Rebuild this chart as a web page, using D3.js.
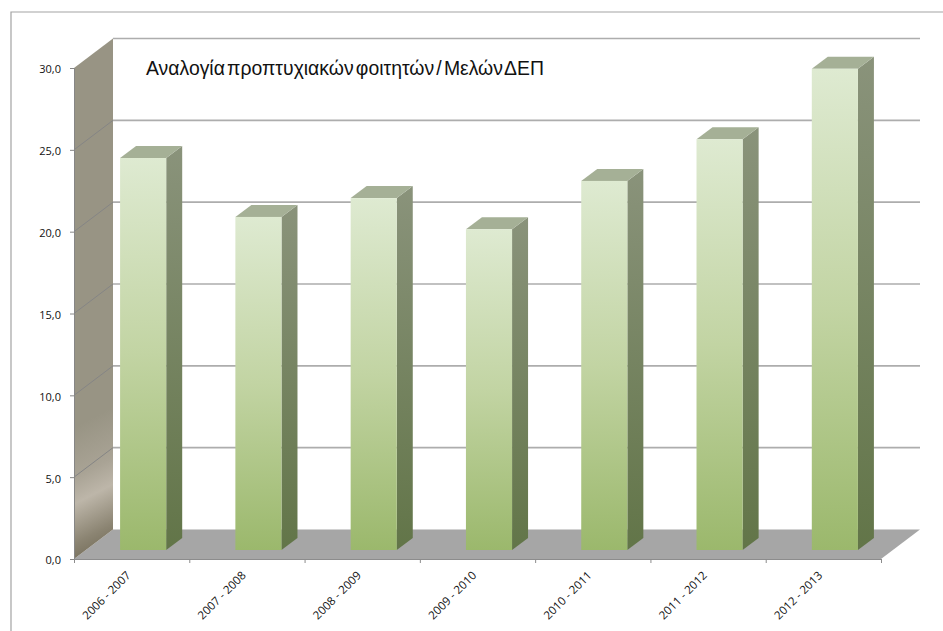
<!DOCTYPE html>
<html>
<head>
<meta charset="utf-8">
<script src="https://cdn.jsdelivr.net/npm/d3@7"></script>
<style>
  html, body { margin: 0; padding: 0; background: #fff; }
  svg { display: block; }
  .tick text { font-family: "Open Sans", sans-serif; font-size: 11px; fill: #111; }
</style>
</head>
<body>
<div id="chart"></div>
<script>
// chart values
let years = ["2006 - 2007", "2007 - 2008", "2008 - 2009", "2009 - 2010", "2010 - 2011", "2011 - 2012", "2012 - 2013"];
let ratio = [23.95, 20.35, 21.5, 19.6, 22.55, 25.1, 29.4];
let yTicks = [0, 5, 10, 15, 20, 25, 30];
let title = "Αναλογία προπτυχιακών φοιτητών / Μελών ΔΕΠ";

let width = 943, height = 631;

// front plane of the fake 3d box
let plotLeft = 74, plotRight = 881, plotBottom = 559, plotTop = 68;
let depthX = 39, depthY = 29.5;
// bar depth and how far the bar sits inside the floor
let barDepthX = 16, barDepthY = 12, barInX = 11.5, barInY = 9;

let svg = d3.select("#chart").append("svg")
  .attr("width", width).attr("height", height);

let yScale = d3.scaleLinear().domain([0, 30]).range([plotBottom, plotTop]);
let xScale = d3.scaleBand().domain(years).range([plotLeft, plotRight]).paddingInner(0.6).paddingOuter(0.3);
let xEdges = d3.scaleLinear().domain([0, years.length]).range([plotLeft, plotRight]);

////////////////////////////////////////////////////////////////////////
// gradients
let defs = svg.append("defs");

function addGradient(id, stops) {
  let g = defs.append("linearGradient").attr("id", id)
    .attr("x1", 0).attr("y1", 0).attr("x2", 0).attr("y2", 1);
  stops.forEach(s => g.append("stop").attr("offset", s[0]).attr("stop-color", s[1]));
}
addGradient("barFront", [[0, "#deead1"], [0.5, "#c2d4a3"], [1, "#9bb86c"]]);
addGradient("barSide", [[0, "#8a937b"], [1, "#627548"]]);

// wall shading runs on a slant
let wallGrad = defs.append("linearGradient").attr("id", "wall")
  .attr("gradientUnits", "userSpaceOnUse")
  .attr("x1", 74).attr("y1", 560).attr("x2", 20).attr("y2", 455);
[[0, "#7c7562"], [0.12, "#8b8472"], [0.42, "#bdb6a9"], [0.62, "#a9a395"], [1, "#989484"]]
  .forEach(s => wallGrad.append("stop").attr("offset", s[0]).attr("stop-color", s[1]));

////////////////////////////////////////////////////////////////////////
// outer frame, only top and left are visible
svg.append("path")
  .attr("d", d3.line()([[11, height], [11, 12], [width, 12]]))
  .attr("fill", "none").attr("stroke", "#a3a3a3").attr("stroke-width", 1.2);

// floor
svg.append("path")
  .attr("d", d3.line()([
    [plotLeft, plotBottom], [plotLeft + depthX, plotBottom - depthY],
    [plotRight + depthX, plotBottom - depthY], [plotRight, plotBottom]
  ]) + "Z")
  .attr("fill", "#a6a6a6");

// side wall
svg.append("path")
  .attr("d", d3.line()([
    [plotLeft, yScale(30)], [plotLeft + depthX, yScale(30) - depthY],
    [plotLeft + depthX, plotBottom - depthY], [plotLeft, plotBottom]
  ]) + "Z")
  .attr("fill", "url(#wall)");

// gridlines on wall and back plane
svg.append("g").selectAll(".wallgrid")
  .data(yTicks.slice(1, -1))
  .enter().append("line")
  .attr("class", "wallgrid")
  .attr("x1", plotLeft).attr("y1", d => yScale(d))
  .attr("x2", plotLeft + depthX).attr("y2", d => yScale(d) - depthY)
  .attr("stroke", "#858585").attr("stroke-width", 1);

svg.append("g").selectAll(".grid")
  .data(yTicks.slice(1))
  .enter().append("line")
  .attr("class", "grid")
  .attr("x1", plotLeft + depthX).attr("y1", d => yScale(d) - depthY)
  .attr("x2", plotRight + depthX).attr("y2", d => yScale(d) - depthY)
  .attr("stroke", "#adadad").attr("stroke-width", 1.6);

////////////////////////////////////////////////////////////////////////
// bars: front, side and top faces
let bars = svg.append("g").selectAll(".bar")
  .data(years.map((y, i) => ({ year: y, value: ratio[i] })))
  .enter().append("g")
  .attr("class", "bar")
  .attr("transform", `translate(${barInX},${-barInY})`);

bars.append("path")
  .attr("d", d => {
    let x = xScale(d.year) + xScale.bandwidth(), t = yScale(d.value), b = yScale(0);
    return d3.line()([[x, t], [x + barDepthX, t - barDepthY], [x + barDepthX, b - barDepthY], [x, b]]) + "Z";
  })
  .attr("fill", "url(#barSide)");

bars.append("path")
  .attr("d", d => {
    let x = xScale(d.year), w = xScale.bandwidth(), t = yScale(d.value);
    return d3.line()([[x, t], [x + barDepthX, t - barDepthY], [x + w + barDepthX, t - barDepthY], [x + w, t]]) + "Z";
  })
  .attr("fill", "#a5b096");

bars.append("rect")
  .attr("x", d => xScale(d.year))
  .attr("y", d => yScale(d.value))
  .attr("width", xScale.bandwidth())
  .attr("height", d => yScale(0) - yScale(d.value))
  .attr("fill", "url(#barFront)");

////////////////////////////////////////////////////////////////////////
// axes
let yAxis = svg.append("g")
  .attr("transform", `translate(${plotLeft},0)`)
  .call(d3.axisLeft(yScale).tickValues(yTicks).tickSize(4).tickPadding(9)
    .tickFormat(d => d3.format(".1f")(d).replace(".", ",")));
yAxis.selectAll("path, line").attr("stroke", "#868686");
yAxis.selectAll("text").attr("dy", "0.45em");

let xAxis = svg.append("g")
  .attr("transform", `translate(0,${plotBottom})`)
  .call(d3.axisBottom(xEdges).tickValues(d3.range(years.length + 1)).tickSize(4).tickFormat(""));
xAxis.selectAll("path, line").attr("stroke", "#8c8c8c");

svg.append("g").selectAll(".xlabel")
  .data(years)
  .enter().append("text")
  .attr("class", "xlabel")
  .attr("transform", d => `translate(${xScale(d) + xScale.bandwidth() / 2 - 2.5},${plotBottom + 15}) rotate(-45)`)
  .attr("text-anchor", "end")
  .attr("dominant-baseline", "middle")
  .attr("font-family", "Open Sans, sans-serif")
  .attr("font-size", "11.5px")
  .attr("fill", "#111")
  .text(d => d);

// title
svg.append("text")
  .attr("x", 146).attr("y", 75)
  .attr("font-family", "Liberation Sans, sans-serif")
  .attr("font-size", "19.4px")
  .attr("word-spacing", "-3.2px")
  .attr("fill", "#111")
  .text(title);
</script>
</body>
</html>
